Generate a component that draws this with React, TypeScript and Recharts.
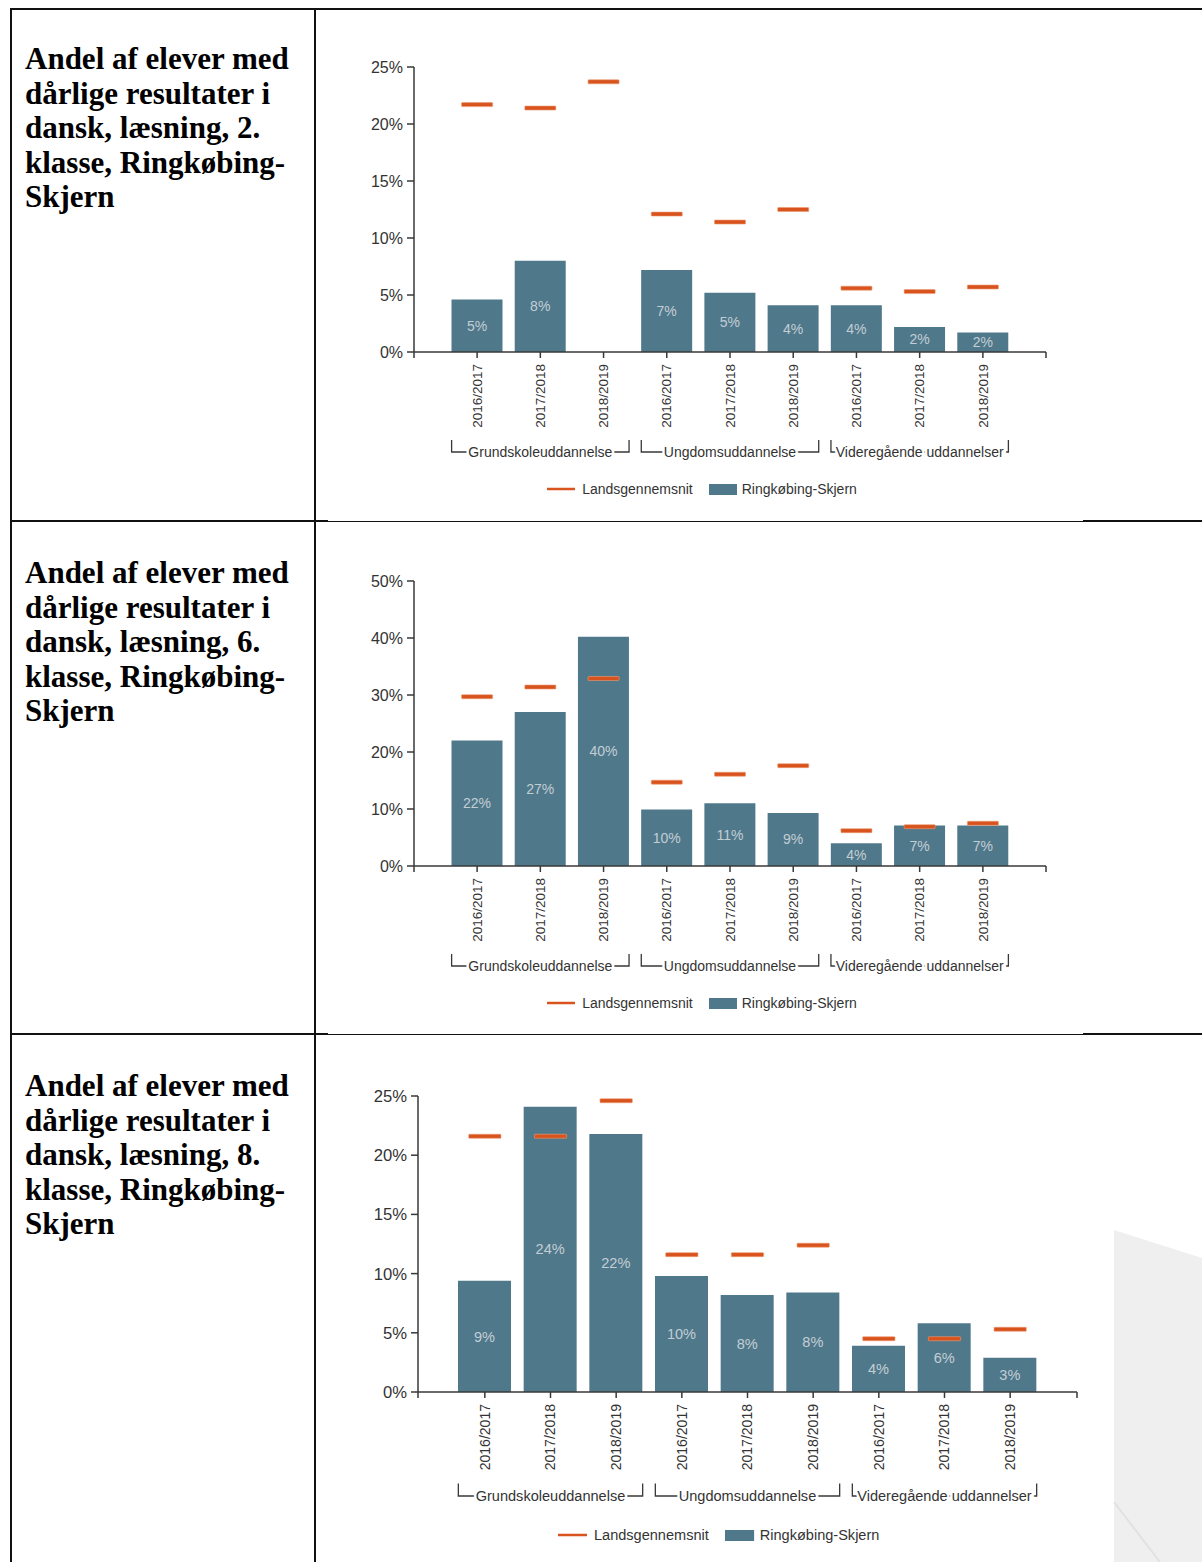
import React from 'react';
import { ComposedChart, Bar, Scatter, XAxis, YAxis, Legend, LabelList } from 'recharts';

// ---------- data ----------
const groups = ['Grundskoleuddannelse', 'Ungdomsuddannelse', 'Videregående uddannelser'];
const years = ['2016/2017', '2017/2018', '2018/2019'];
const nameLands = 'Landsgennemsnit';
const nameLocal = 'Ringkøbing-Skjern';

const titles = [
  ['Andel af elever med', 'dårlige resultater i', 'dansk, læsning, 2.', 'klasse, Ringkøbing-', 'Skjern'],
  ['Andel af elever med', 'dårlige resultater i', 'dansk, læsning, 6.', 'klasse, Ringkøbing-', 'Skjern'],
  ['Andel af elever med', 'dårlige resultater i', 'dansk, læsning, 8.', 'klasse, Ringkøbing-', 'Skjern'],
];

const klasse2Local = [4.6, 8.0, null, 7.2, 5.2, 4.1, 4.1, 2.2, 1.7];
const klasse2Lands = [21.7, 21.4, 23.7, 12.1, 11.4, 12.5, 5.6, 5.3, 5.7];
const klasse6Local = [22.0, 27.0, 40.2, 9.9, 11.0, 9.3, 4.0, 7.1, 7.1];
const klasse6Lands = [29.7, 31.4, 32.9, 14.7, 16.1, 17.6, 6.2, 6.9, 7.5];
const klasse8Local = [9.4, 24.1, 21.8, 9.8, 8.2, 8.4, 3.9, 5.8, 2.9];
const klasse8Lands = [21.6, 21.6, 24.6, 11.6, 11.6, 12.4, 4.5, 4.5, 5.3];

const yTicks25 = [0, 5, 10, 15, 20, 25];
const yTicks50 = [0, 10, 20, 30, 40, 50];

// ---------- styles ----------
const BAR_COLOR = '#50788b';
const LINE_COLOR = '#d8531d';
const AXIS_COLOR = '#383838';
const TEXT_COLOR = '#333333';
const LABEL_COLOR = '#c3ced4';
const FONT = '"Liberation Sans", Arial, sans-serif';

type Row = { key: string; local: number | null; lands: number };

function buildRows(local: (number | null)[], lands: number[]): Row[] {
  const rows: Row[] = [];
  groups.forEach((g, gi) =>
    years.forEach((y, yi) => {
      const i = gi * 3 + yi;
      rows.push({ key: `${g}|${y}`, local: local[i], lands: lands[i] });
    })
  );
  return rows;
}

type Cfg = {
  left: number;
  top: number;
  yAxisW: number;
  plotW: number;
  plotH: number;
  xAxisH: number;
  pad: number;
  barSize: number;
  s: number;
  max: number;
  ticks: number[];
  legendShift: number;
};

const MARGIN_TOP = 27;
const MARGIN_RIGHT = 20;
const MARGIN_BOTTOM = 6;
const LEGEND_H = 24;
const TICK_SIZE = 6;
const TICK_MARGIN = 6;

function CategoryTick(props: any) {
  const { x, y, payload, cfg } = props;
  const c: Cfg = cfg;
  const s = c.s;
  const band = (c.plotW - 2 * c.pad) / 9;
  const [g, yr] = String(payload.value).split('|');
  const gi = groups.indexOf(g);
  const yi = years.indexOf(yr);
  const idx = gi * 3 + yi;
  const axisY = y - TICK_SIZE - TICK_MARGIN;
  const els: React.ReactNode[] = [];
  els.push(
    <text
      key="t"
      x={x}
      y={y}
      transform={`rotate(-90, ${x}, ${y})`}
      textAnchor="end"
      dy="0.35em"
      fontSize={13.5 * s}
      fill={TEXT_COLOR}
      fontFamily={FONT}
    >
      {yr}
    </text>
  );
  if (yi === 1) {
    const l = x - band - c.barSize / 2;
    const r = x + band + c.barSize / 2;
    const ly = axisY + 100 * s;
    const hook = 12 * s;
    els.push(
      <path
        key="b"
        d={`M${l},${ly - hook}L${l},${ly}L${r},${ly}L${r},${ly - hook}`}
        fill="none"
        stroke={AXIS_COLOR}
        strokeWidth={1.3}
      />
    );
    els.push(
      <text
        key="g"
        x={x}
        y={ly}
        dy="0.33em"
        textAnchor="middle"
        fontSize={14 * s}
        fill={TEXT_COLOR}
        fontFamily={FONT}
        stroke="#ffffff"
        strokeWidth={5}
        paintOrder="stroke"
      >
        {g}
      </text>
    );
  }
  if (idx === 0) {
    const ex = x - band / 2 - c.pad;
    els.push(<line key="e0" x1={ex} x2={ex} y1={axisY} y2={axisY + TICK_SIZE} stroke={AXIS_COLOR} strokeWidth={1.5} />);
  }
  if (idx === 8) {
    const ex = x + band / 2 + c.pad;
    els.push(<line key="e1" x1={ex} x2={ex} y1={axisY} y2={axisY + TICK_SIZE} stroke={AXIS_COLOR} strokeWidth={1.5} />);
  }
  return <g>{els}</g>;
}

function LegendBox({ cfg }: { cfg: Cfg }) {
  const s = cfg.s;
  return (
    <div
      style={{
        display: 'flex',
        justifyContent: 'center',
        alignItems: 'center',
        height: LEGEND_H,
        paddingLeft: cfg.legendShift * 2,
        fontFamily: FONT,
        fontSize: 14 * s,
        color: TEXT_COLOR,
        boxSizing: 'border-box',
        whiteSpace: 'nowrap',
      }}
    >
      <svg width={28 * s} height={10} style={{ display: 'block' }}>
        <line x1={0} x2={28 * s} y1={5} y2={5} stroke={LINE_COLOR} strokeWidth={2.5} />
      </svg>
      <span style={{ marginLeft: 7 * s }}>{nameLands}</span>
      <svg width={28 * s} height={11} style={{ display: 'block', marginLeft: 16 * s }}>
        <rect x={0} y={0} width={28 * s} height={11} fill={BAR_COLOR} />
      </svg>
      <span style={{ marginLeft: 5 * s }}>{nameLocal}</span>
    </div>
  );
}

function Marker(props: any) {
  const { cx, cy, w } = props;
  if (cx == null || cy == null) return null;
  return (
    <rect
      x={cx - w / 2}
      y={cy - 2}
      width={w}
      height={4}
      rx={0.6}
      fill={LINE_COLOR}
      stroke="#ee9a72"
      strokeWidth={0.6}
    />
  );
}

function Chart({ cfg, rows }: { cfg: Cfg; rows: Row[] }) {
  const width = cfg.yAxisW + cfg.plotW + MARGIN_RIGHT;
  const height = MARGIN_TOP + cfg.plotH + cfg.xAxisH + LEGEND_H + MARGIN_BOTTOM;
  const s = cfg.s;
  return (
    <div style={{ position: 'absolute', left: cfg.left, top: cfg.top }}>
      <ComposedChart
        width={width}
        height={height}
        data={rows}
        margin={{ top: MARGIN_TOP, right: MARGIN_RIGHT, bottom: MARGIN_BOTTOM, left: 0 }}
      >
        <XAxis
          dataKey="key"
          type="category"
          interval={0}
          height={cfg.xAxisH}
          padding={{ left: cfg.pad, right: cfg.pad }}
          axisLine={{ stroke: AXIS_COLOR, strokeWidth: 1.5 }}
          tickLine={{ stroke: AXIS_COLOR, strokeWidth: 1.5 }}
          tickSize={TICK_SIZE}
          tickMargin={TICK_MARGIN}
          tick={(p: any) => <CategoryTick {...p} cfg={cfg} />}
        />
        <YAxis
          type="number"
          domain={[0, cfg.max]}
          ticks={cfg.ticks}
          interval={0}
          width={cfg.yAxisW}
          axisLine={{ stroke: AXIS_COLOR, strokeWidth: 1.5 }}
          tickLine={{ stroke: AXIS_COLOR, strokeWidth: 1.5 }}
          tickSize={7}
          tickMargin={4}
          tickFormatter={(v: number) => `${v}%`}
          tick={{ fontSize: 16 * s, fill: TEXT_COLOR, fontFamily: FONT }}
        />
        <Legend verticalAlign="bottom" align="center" content={() => <LegendBox cfg={cfg} />} />
        <Bar dataKey="local" name={nameLocal} fill={BAR_COLOR} barSize={cfg.barSize} isAnimationActive={false}>
          <LabelList
            dataKey="local"
            position="center"
            fill={LABEL_COLOR}
            fontSize={14 * s}
            fontFamily={FONT}
            formatter={(v: any) => (v == null ? '' : `${Math.round(Number(v))}%`)}
          />
        </Bar>
        <Scatter
          dataKey="lands"
          name={nameLands}
          fill={LINE_COLOR}
          isAnimationActive={false}
          shape={(p: any) => <Marker {...p} w={31 * s} />}
        />
      </ComposedChart>
    </div>
  );
}

const cfgA: Cfg = { left: 330, top: 40, yAxisW: 84, plotW: 632, plotH: 285, xAxisH: 125, pad: 31.5, barSize: 51, s: 1, max: 25, ticks: yTicks25, legendShift: 14 };
const cfgB: Cfg = { ...cfgA, top: 554, max: 50, ticks: yTicks50 };
const cfgC: Cfg = { left: 330, top: 1069, yAxisW: 88, plotW: 659, plotH: 296, xAxisH: 131, pad: 34, barSize: 53, s: 1.04, max: 25, ticks: yTicks25, legendShift: 15 };

const rowsA = buildRows(klasse2Local, klasse2Lands);
const rowsB = buildRows(klasse6Local, klasse6Lands);
const rowsC = buildRows(klasse8Local, klasse8Lands);

function Line({ l, t, w, h }: { l: number; t: number; w: number; h: number }) {
  return <div style={{ position: 'absolute', left: l, top: t, width: w, height: h, background: '#111' }} />;
}

function Title({ top, lines }: { top: number; lines: string[] }) {
  return (
    <div
      style={{
        position: 'absolute',
        left: 25,
        top,
        fontFamily: '"Liberation Serif", "Times New Roman", serif',
        fontWeight: 'bold',
        fontSize: 31,
        lineHeight: '34.5px',
        color: '#000',
        whiteSpace: 'nowrap',
      }}
    >
      {lines.map((ln, i) => (
        <div key={i}>{ln}</div>
      ))}
    </div>
  );
}

export default function App() {
  return (
    <div style={{ position: 'absolute', left: 0, top: 0, width: 1202, height: 1562, background: '#fff', overflow: 'hidden' }}>
      {/* decorative background shape */}
      <svg style={{ position: 'absolute', left: 0, top: 0 }} width={1202} height={1562}>
        <polygon points="1114,1230 1202,1258 1202,1562 1114,1562" fill="#efefef" />
        <line x1={1114} y1={1502} x2={1160} y2={1562} stroke="#e2e2e2" strokeWidth={2} />
      </svg>
      {/* table borders */}
      <Line l={10} t={8} w={1192} h={2} />
      <Line l={10} t={8} w={2} h={1554} />
      <Line l={314} t={8} w={1.5} h={1554} />
      <Line l={10} t={520} w={318} h={2} />
      <Line l={328} t={521} w={755} h={1} />
      <Line l={1083} t={520} w={119} h={2} />
      <Line l={10} t={1033} w={318} h={2} />
      <Line l={328} t={1034} w={755} h={1} />
      <Line l={1083} t={1033} w={119} h={2} />

      <Title top={42} lines={titles[0]} />
      <Title top={556} lines={titles[1]} />
      <Title top={1069} lines={titles[2]} />

      <Chart cfg={cfgA} rows={rowsA} />
      <Chart cfg={cfgB} rows={rowsB} />
      <Chart cfg={cfgC} rows={rowsC} />
    </div>
  );
}
